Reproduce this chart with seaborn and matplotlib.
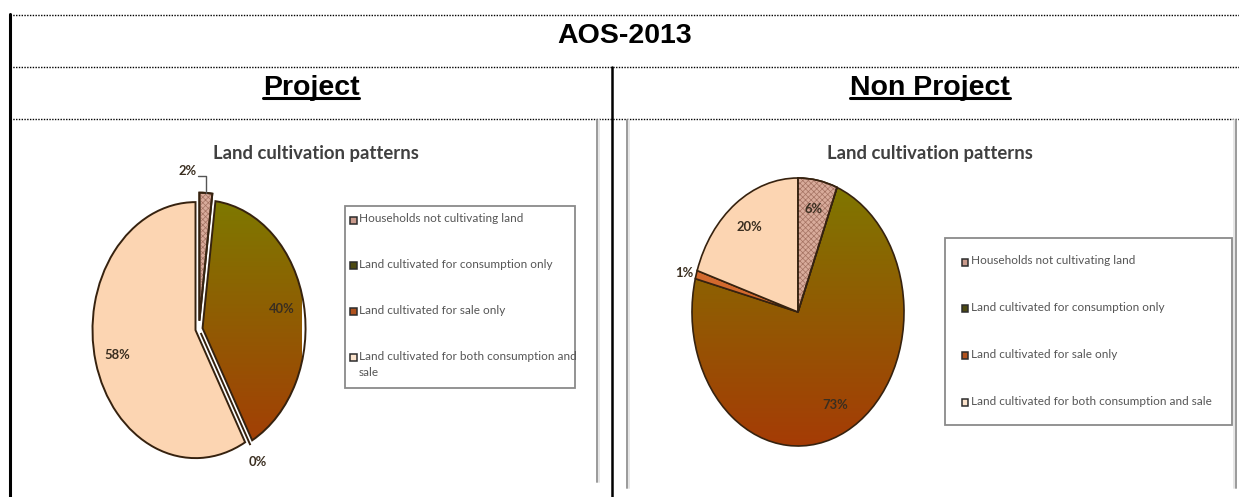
import textwrap

import numpy as np
import matplotlib
matplotlib.use("Agg")
import matplotlib.pyplot as plt
import seaborn as sns
from matplotlib.lines import Line2D
from matplotlib.patches import Rectangle, Wedge

# ---------------- data ----------------
categories = [
    "Households not cultivating land",
    "Land cultivated for consumption only",
    "Land cultivated for sale only",
    "Land cultivated for both consumption and sale",
]
project_values = [2, 40, 0, 58]
non_project_values = [6, 73, 1, 20]
header_title = "AOS-2013"
column_titles = ["Project", "Non Project"]
chart_title = "Land cultivation patterns"

# ---------------- style ----------------
sns.set_theme(style="white")
plt.rcParams["font.family"] = ["Liberation Sans", "DejaVu Sans"]
plt.rcParams["hatch.linewidth"] = 0.5

slice_colors = ["#d8ab9b", "#8f5a03", "#d2692e", "#fcd5b2"]
legend_colors = ["#c99a8c", "#4d4a12", "#b0521e", "#fbe3cc"]
consumption_cmap = sns.blend_palette(["#7d7a00", "#a63a06"], as_cmap=True)
edge_color = "#36220f"
label_color = "#3a2e20"
legend_text_color = "#555555"
title_color = "#404040"
frame_color = "#9a9a9a"

W, H = 1239, 497
fig = plt.figure(figsize=(W / 100, H / 100), dpi=100)
fig.patch.set_facecolor("white")


def fx(px):
    return px / W


def fy(py):
    return 1 - py / H


def hline(y, x0, x1, **kw):
    fig.add_artist(Line2D([fx(x0), fx(x1)], [fy(y), fy(y)],
                          transform=fig.transFigure, **kw))


def vline(x, y0, y1, **kw):
    fig.add_artist(Line2D([fx(x), fx(x)], [fy(y0), fy(y1)],
                          transform=fig.transFigure, **kw))


# ---------------- table grid ----------------
dotted = dict(color="black", lw=1.0, ls=(0, (1, 1)))
hline(15, 10, W, **dotted)
hline(67, 10, W, **dotted)
hline(119, 10, W, **dotted)
vline(10, 14, H, color="black", lw=2.2)
vline(612, 67, H, color="black", lw=1.8)

# borders of the two embedded chart areas
for x, y1 in [(597, 482), (627, 488), (1236, 488)]:
    vline(x, 120, y1, color=frame_color, lw=1.4)
    vline(x + (2 if x != 1236 else -2), 120, y1, color="#e6e6e6", lw=1.4)

# ---------------- header text ----------------
fig.text(fx(625), fy(43), header_title, ha="center", va="baseline",
         fontsize=20.5, fontweight="bold", color="black")
col_texts = []
for cx, t in zip([311, 930], column_titles):
    col_texts.append(fig.text(fx(cx), fy(95), t, ha="center", va="baseline",
                              fontsize=20.5, fontweight="bold", color="black"))

fig.canvas.draw()
renderer = fig.canvas.get_renderer()
for t in col_texts:
    bb = t.get_window_extent(renderer)
    hline(98, bb.x0, bb.x1, color="black", lw=2.2)


# ---------------- pies ----------------
def draw_pie(values, cx, cy, rx, ry, explode, outside, leader, edge_lw):
    ax = fig.add_axes([fx(cx - rx), fy(cy + ry), 2 * rx / W, 2 * ry / H])
    wedges, _ = ax.pie(values, startangle=90, counterclock=False,
                       explode=explode, colors=slice_colors,
                       wedgeprops=dict(edgecolor=edge_color, linewidth=edge_lw))
    ax.set_aspect("auto")
    ax.axis("off")
    for w in wedges:
        w.set_clip_on(False)

    # vertical gradient for the consumption slice
    grad = np.linspace(0, 1, 256).reshape(-1, 1)
    cw = wedges[1]
    im = ax.imshow(grad, cmap=consumption_cmap, extent=(-1.3, 1.3, -1.05, 1.05),
                   origin="upper", aspect="auto", zorder=0.5)
    im.set_clip_box(None)
    im.set_clip_path(cw)
    cw.set_facecolor("none")
    cw.set_zorder(1)

    # dotted hatch on the non-cultivating slice
    hw = wedges[0]
    ax.add_patch(Wedge(hw.center, hw.r, hw.theta1, hw.theta2, facecolor="none",
                       edgecolor="#a47262", lw=0, hatch="xxxxxx", zorder=1.1,
                       clip_on=False))
    ax.add_patch(Wedge(hw.center, hw.r, hw.theta1, hw.theta2, facecolor="none",
                       edgecolor=edge_color, lw=edge_lw, zorder=1.2,
                       clip_on=False))
    ax.set_xlim(-1, 1)
    ax.set_ylim(-1, 1)

    for i, (w, v) in enumerate(zip(wedges, values)):
        mid = np.deg2rad((w.theta1 + w.theta2) / 2)
        ox, oy = w.center
        txt = f"{v}%"
        kw = dict(fontsize=9.4, fontweight="bold", color=label_color,
                  family=["Lato", "DejaVu Sans"], clip_on=False)
        if i == leader:
            axx, ayy = ox + np.cos(mid), oy + np.sin(mid)
            ax.add_line(Line2D([axx, axx, axx - 0.075],
                               [ayy, ayy + 0.13, ayy + 0.13],
                               color="#555555", lw=1.0, clip_on=False))
            ax.text(axx - 0.085, ayy + 0.17, txt, ha="right", va="center", **kw)
        elif i in outside:
            r, ha = outside[i]
            ax.text(ox + r * np.cos(mid), oy + r * np.sin(mid), txt,
                    ha=ha, va="center", **kw)
        else:
            ax.text(ox + 0.78 * np.cos(mid), oy + 0.78 * np.sin(mid), txt,
                    ha="center", va="center", **kw)
    return ax


draw_pie(project_values, 199, 329, 103, 128,
         explode=[0.065, 0.035, 0.035, 0.035], outside={2: (1.15, "center")},
         leader=0, edge_lw=1.4)
draw_pie(non_project_values, 798, 312, 106, 134,
         explode=[0, 0, 0, 0], outside={2: (1.03, "right")},
         leader=None, edge_lw=1.2)

# chart titles
for cx in [316, 930]:
    fig.text(fx(cx), fy(153), chart_title, ha="center", va="center",
             fontsize=13.3, fontweight="bold", color=title_color,
             family=["Lato", "DejaVu Sans"])


# ---------------- legends ----------------
def draw_legend(x0, y0, x1, y1, first_y, step, marker_x, wrap):
    fig.add_artist(Rectangle((fx(x0), fy(y1)), (x1 - x0) / W, (y1 - y0) / H,
                             transform=fig.transFigure, fill=False,
                             edgecolor="#8a8a8a", lw=1.3))
    for i, lab in enumerate(categories):
        y = first_y + i * step
        fig.add_artist(Rectangle((fx(marker_x - 3.5), fy(y + 3.5)), 7 / W, 7 / H,
                                 transform=fig.transFigure,
                                 facecolor=legend_colors[i],
                                 edgecolor="#2c2c2c", lw=1.1))
        fig.text(fx(marker_x + 6), fy(y - 6.5), textwrap.fill(lab, wrap),
                 ha="left", va="top", fontsize=8.5, color=legend_text_color,
                 family=["Lato", "DejaVu Sans"], linespacing=1.55)


draw_legend(345, 206, 575, 388, 220, 45.7, 353, 40)
draw_legend(945, 238, 1232, 425, 262, 46.7, 965, 60)

fig.savefig("out.png", dpi=100, facecolor="white")
